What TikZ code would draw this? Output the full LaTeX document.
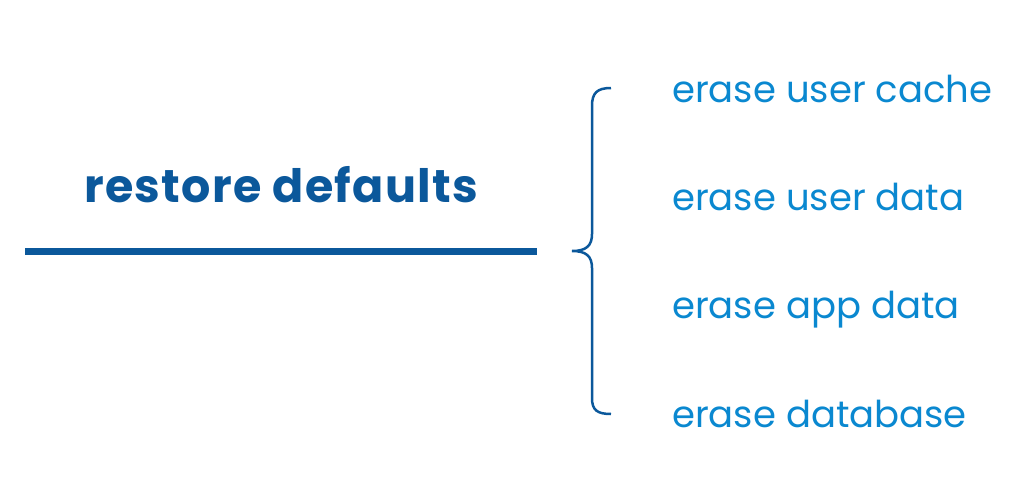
\documentclass[tikz,border=0pt]{standalone}
\usepackage{fontspec}
\setmainfont{Poppins}
\definecolor{darkblue}{RGB}{11,88,155}
\definecolor{lightblue}{RGB}{10,136,208}
\tikzset{
  title/.style={text=darkblue,font=\fontsize{46}{48}\selectfont\bfseries\addfontfeature{LetterSpace=2.8},anchor=base,inner sep=0pt},
  item/.style={text=lightblue,font=\fontsize{37}{40}\selectfont,anchor=base west,inner sep=0pt},
}
\begin{document}
\begin{tikzpicture}[x=1pt,y=1pt,yscale=-1,xscale=1]
\useasboundingbox (0,0) rectangle (1020,491);

% Title
\node[title] (defaults) at (281,202) {restore defaults};
% Rule under title
\coordinate (ruleL) at (25,251);
\coordinate (ruleR) at (537,251);
\draw[darkblue,line width=7] (ruleL) -- (ruleR);

% Brace
\draw[darkblue,line width=2.5] (611,88) .. controls (597,88) and (592,93) .. (592,106) -- (592,234) .. controls (592,246) and (586,251) .. (572,251) .. controls (586,251) and (592,256) .. (592,268) -- (592,398) .. controls (592,410) and (597,414) .. (611,414);

% Items
\node[item] (cache) at (672,102) {erase user cache};
\node[item] (userdata) at (672,210) {erase user data};
\node[item] (appdata) at (672,318) {erase app data};
\node[item] (database) at (672,427) {erase database};

\end{tikzpicture}
\end{document}
